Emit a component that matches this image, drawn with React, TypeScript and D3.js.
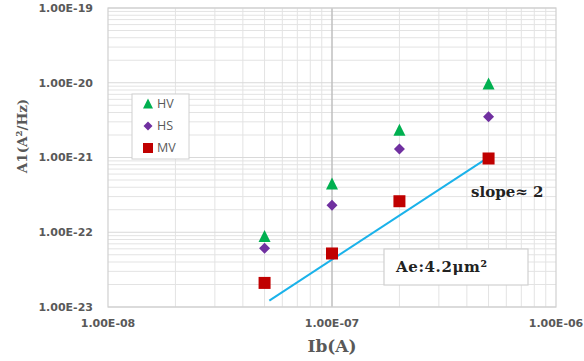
import React from "react";
import * as d3 from "d3";

const xValues = [5e-8, 1e-7, 2e-7, 5e-7];
const hvValues = [8.75e-23, 4.4e-22, 2.3e-21, 9.6e-21];
const hsValues = [6.1e-23, 2.3e-22, 1.3e-21, 3.5e-21];
const mvValues = [2.1e-23, 5.2e-23, 2.6e-22, 9.7e-22];
const slopeLineX = [5.25e-8, 5.15e-7];
const slopeLineY = [1.22e-23, 1.07e-21];
const xTicks = [1e-8, 1e-7, 1e-6];
const yTicks = [1e-23, 1e-22, 1e-21, 1e-20, 1e-19];
const fmt = (v: number) => {
  const e = Math.round(Math.log10(v));
  const s = Math.abs(e) < 10 ? "0" + Math.abs(e) : String(Math.abs(e));
  return "1.00E" + (e < 0 ? "-" : "+") + s;
};

const W = 584, H = 361;
const L = 108, R = 556, T = 8, B = 307;

export default function App() {
  const x = d3.scaleLog().domain([1e-8, 1e-6]).range([L, R]);
  const y = d3.scaleLog().domain([1e-23, 1e-19]).range([B, T]);
  const minorX: number[] = [];
  for (let d = -8; d < -6; d++) for (let k = 2; k <= 9; k++) minorX.push(k * Math.pow(10, d));
  const minorY: number[] = [];
  for (let d = -23; d < -19; d++) for (let k = 2; k <= 9; k++) minorY.push(k * Math.pow(10, d));
  const lbl = { fontFamily: "'DejaVu Sans', sans-serif", fontWeight: 700, fontSize: 11, fill: "#595959" } as const;
  const serif = { fontFamily: "'DejaVu Serif', serif", fontWeight: 700 } as const;
  const tri = (cx: number, cy: number, s: number) => `M${cx},${cy - s * 0.55}L${cx + s / 2},${cy + s * 0.45}L${cx - s / 2},${cy + s * 0.45}Z`;
  const dia = (cx: number, cy: number, s: number) => `M${cx},${cy - s / 2}L${cx + s / 2},${cy}L${cx},${cy + s / 2}L${cx - s / 2},${cy}Z`;
  return (
    <svg width={W} height={H} style={{ position: "absolute", left: 0, top: 0, background: "#fff" }}>
      <rect x={0} y={0} width={W} height={H} fill="#fff" />
      {minorX.map((v, i) => (
        <line key={"mx" + i} x1={x(v)} x2={x(v)} y1={T} y2={B} stroke="#e3e3e3" strokeWidth={1} />
      ))}
      {minorY.map((v, i) => (
        <line key={"my" + i} x1={L} x2={R} y1={y(v)} y2={y(v)} stroke="#e3e3e3" strokeWidth={1} />
      ))}
      {yTicks.map((v, i) => (
        <line key={"gy" + i} x1={L} x2={R} y1={y(v)} y2={y(v)} stroke="#d9d9d9" strokeWidth={1} />
      ))}
      <line x1={x(1e-7)} x2={x(1e-7)} y1={T} y2={B} stroke="#bfbfbf" strokeWidth={1.5} />
      <rect x={L} y={T} width={R - L} height={B - T} fill="none" stroke="#d0d0d0" strokeWidth={1.2} />
      {yTicks.map((v, i) => (
        <text key={"yl" + i} x={93} y={y(v)} dy="0.35em" textAnchor="end" {...lbl}>{fmt(v)}</text>
      ))}
      {xTicks.map((v, i) => (
        <text key={"xl" + i} x={x(v)} y={327} textAnchor="middle" {...lbl}>{fmt(v)}</text>
      ))}
      <text x={x(1e-7)} y={352} textAnchor="middle" fontSize={17} fill="#595959" {...serif}>Ib(A)</text>
      <text transform={`translate(27,136) rotate(-90)`} textAnchor="middle" fontSize={13.5} fill="#595959" {...serif}>A1(A²/Hz)</text>
      <line x1={x(slopeLineX[0])} y1={y(slopeLineY[0])} x2={x(slopeLineX[1])} y2={y(slopeLineY[1])} stroke="#1ab2ea" strokeWidth={2} />
      {xValues.map((v, i) => (
        <path key={"hv" + i} d={tri(x(v), y(hvValues[i]), 12)} fill="#00b050" />
      ))}
      {xValues.map((v, i) => (
        <path key={"hs" + i} d={dia(x(v), y(hsValues[i]), 11)} fill="#7030a0" />
      ))}
      {xValues.map((v, i) => (
        <rect key={"mv" + i} x={x(v) - 6} y={y(mvValues[i]) - 6} width={12} height={12} fill="#c00000" />
      ))}
      <rect x={132} y={94} width={57} height={65} fill="#fff" stroke="#d0d0d0" strokeWidth={1} />
      <path d={tri(148, 104, 10)} fill="#00b050" />
      <text x={157} y={104} dy="0.35em" fontFamily="'Open Sans', sans-serif" fontSize={12.5} fill="#595959">HV</text>
      <path d={dia(148, 126, 9)} fill="#7030a0" />
      <text x={157} y={126} dy="0.35em" fontFamily="'Open Sans', sans-serif" fontSize={12.5} fill="#595959">HS</text>
      <rect x={143} y={143} width={10} height={10} fill="#c00000" />
      <text x={157} y={148} dy="0.35em" fontFamily="'Open Sans', sans-serif" fontSize={12.5} fill="#595959">MV</text>
      <text x={471} y={197} fontSize={15} fill="#222" {...serif}>slope≈ 2</text>
      <rect x={384} y={249} width={144} height={36} fill="#fff" stroke="#d0d0d0" strokeWidth={1.2} />
      <text x={396} y={267} dy="0.35em" fontSize={15} letterSpacing={0.6} fill="#222" {...serif}>Ae:4.2μm²</text>
    </svg>
  );
}
